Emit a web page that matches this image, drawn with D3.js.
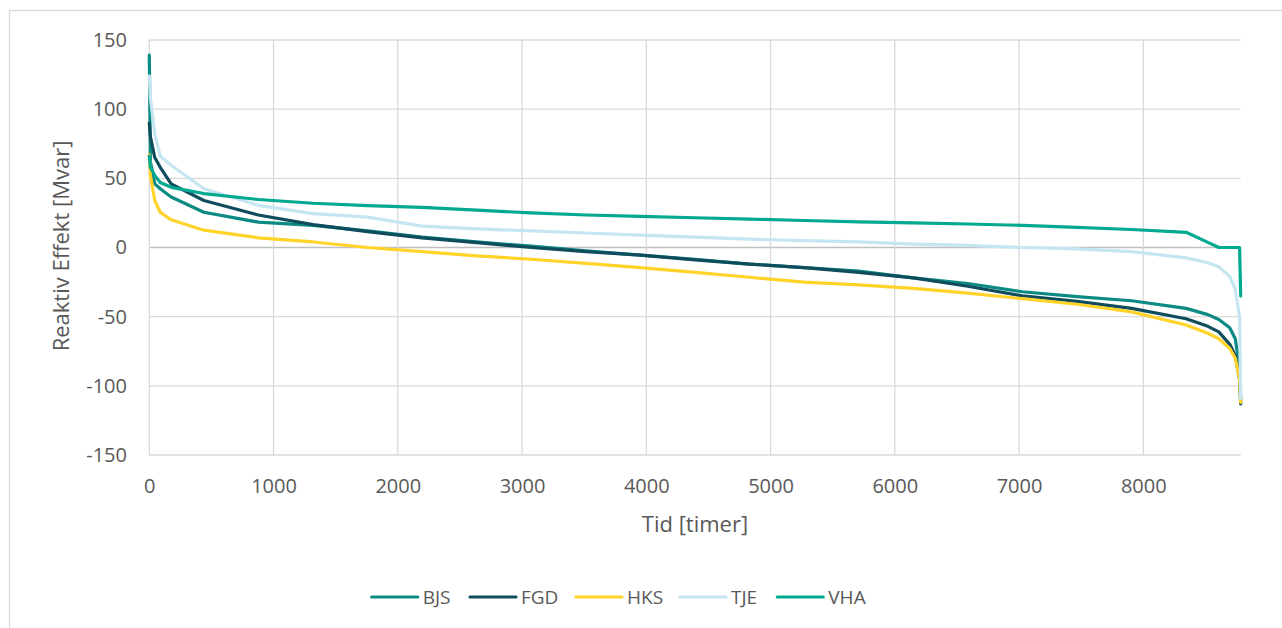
<!DOCTYPE html>
<html>
<head>
<meta charset="utf-8">
<script src="https://cdn.jsdelivr.net/npm/d3@7"></script>
<style>
  html, body { margin: 0; padding: 0; background: #ffffff; }
  svg { display: block; }
  text { font-family: "Open Sans", "Liberation Sans", sans-serif; fill: #595959; }
</style>
</head>
<body>
<svg id="chart" width="1282" height="628"></svg>
<script>
// ---- data ----
const hours = [0, 9, 44, 88, 176, 439, 878, 1318, 1757, 2196, 2635, 3074, 3514, 3953, 4392,
               4831, 5270, 5710, 6149, 6588, 7027, 7466, 7906, 8345, 8520, 8608, 8696, 8740, 8775, 8784];

const BJS = [139, 62, 46, 42.5, 36.5, 25.5, 18.3, 16, 12, 7.5, 4, 1, -2.5, -5.5, -8.5,
             -12, -14.5, -17, -22, -26, -32, -35.5, -38.5, -44, -48.5, -52, -58, -66, -86, -110];
const FGD = [90, 80, 65, 58, 46, 34, 23.5, 16.5, 11.5, 7, 3.5, 0, -3, -5.5, -9,
             -12, -14.5, -18, -22, -28, -35, -39, -44, -51.5, -57, -61, -70, -78, -95, -113];
const HKS = [67, 52, 34, 25.5, 20, 12.5, 7, 4, 0, -3, -6, -8.5, -11.5, -14.5, -18,
             -21.5, -25, -27, -29.5, -33, -37, -41, -46.5, -56, -62, -66, -73, -80, -95, -112];
const TJE = [124, 108, 82, 66, 59.5, 42.5, 30.5, 24.5, 22, 15.5, 13.5, 12, 10.5, 9, 7.5,
             6, 5, 4, 2.5, 1.5, 0, -1, -3, -7.5, -11, -14, -21, -30, -50, -109];
const VHA = [66, 58, 52, 47, 43.5, 39, 34.7, 32, 30.3, 29, 27, 25, 23.5, 22.5, 21.5,
             20.5, 19.5, 18.5, 17.8, 17, 16, 14.5, 13, 11, 3.7, 0, 0, 0, 0, -35];

const seriesNames = ["BJS", "FGD", "HKS", "TJE", "VHA"];
const seriesValues = [BJS, FGD, HKS, TJE, VHA];
const colors = ["#0B8A84", "#0F4C5C", "#FFD32A", "#C5E6F1", "#00A98F"];

const xTicks = [0, 1000, 2000, 3000, 4000, 5000, 6000, 7000, 8000];
const yTicks = [-150, -100, -50, 0, 50, 100, 150];
const xMax = 8784;
const xTitle = "Tid [timer]";
const yTitle = "Reaktiv Effekt [Mvar]";

// ---- layout ----
const svg = d3.select("#chart");
const plot = { left: 149.3, right: 1240.7, top: 40, bottom: 455 };

svg.append("rect").attr("x", 0).attr("y", 0).attr("width", 1282).attr("height", 628).attr("fill", "#fff");
svg.append("rect")
  .attr("x", 9.5).attr("y", 10.5).attr("width", 1290).attr("height", 640)
  .attr("fill", "none").attr("stroke", "#d9d9d9").attr("stroke-width", 1.3);

const x = d3.scaleLinear().domain([0, xMax]).range([plot.left, plot.right]);
const y = d3.scaleLinear().domain([-150, 150]).range([plot.bottom, plot.top]);

// gridlines
const gy = svg.append("g");
gy.selectAll("line").data(yTicks).enter().append("line")
  .attr("x1", plot.left).attr("x2", plot.right)
  .attr("y1", d => y(d)).attr("y2", d => y(d))
  .attr("stroke", d => d === 0 ? "#bfbfbf" : "#d9d9d9")
  .attr("stroke-width", 1.3);
const gx = svg.append("g");
gx.selectAll("line").data(xTicks).enter().append("line")
  .attr("x1", d => x(d)).attr("x2", d => x(d))
  .attr("y1", plot.top).attr("y2", plot.bottom)
  .attr("stroke", "#d9d9d9").attr("stroke-width", 1.3);

// axes labels via d3 axes
const fmt = d => String(d);
const yAxis = d3.axisLeft(y).tickValues(yTicks).tickSize(0).tickPadding(0).tickFormat(fmt);
const ya = svg.append("g").attr("transform", `translate(127,0)`).call(yAxis);
ya.select(".domain").remove();
ya.selectAll("text").attr("font-size", 20).attr("fill", "#595959")
  .style("font-family", '"Open Sans", sans-serif');

const xAxis = d3.axisBottom(x).tickValues(xTicks).tickSize(0).tickPadding(0).tickFormat(fmt);
const xa = svg.append("g").attr("transform", `translate(0,479)`).call(xAxis);
xa.select(".domain").remove();
xa.selectAll("text").attr("font-size", 20).attr("fill", "#595959")
  .style("font-family", '"Open Sans", sans-serif');

// titles
svg.append("text").attr("x", 695).attr("y", 532).attr("text-anchor", "middle")
  .attr("font-size", 22).text(xTitle);
svg.append("text").attr("transform", "translate(69,246) rotate(-90)").attr("text-anchor", "middle")
  .attr("font-size", 22).text(yTitle);

// lines
const line = d3.line().x((d, i) => x(hours[i])).y(d => y(d));
const lg = svg.append("g");
seriesValues.forEach((vals, k) => {
  lg.append("path").datum(vals)
    .attr("d", line)
    .attr("fill", "none")
    .attr("stroke", colors[k])
    .attr("stroke-width", 3.2)
    .attr("stroke-linejoin", "round")
    .attr("stroke-linecap", "round");
});

// legend
const legendX = [371.7, 470, 576, 680, 777.3];
const leg = svg.append("g");
seriesNames.forEach((name, k) => {
  leg.append("line")
    .attr("x1", legendX[k]).attr("x2", legendX[k] + 46)
    .attr("y1", 597).attr("y2", 597)
    .attr("stroke", colors[k]).attr("stroke-width", 3.2).attr("stroke-linecap", "round");
  leg.append("text")
    .attr("x", legendX[k] + 51).attr("y", 604)
    .attr("font-size", 19).text(name);
});
</script>
</body>
</html>
